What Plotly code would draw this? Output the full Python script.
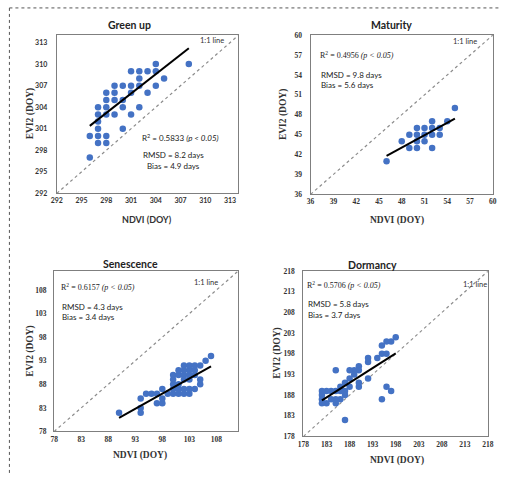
import plotly.graph_objects as go

W, H = 506, 478

# ---------------- data ----------------
green_ndvi = [308, 304, 301, 302, 303, 304, 302, 305, 299, 300, 301, 302, 304, 298, 299, 301, 303,
              298, 299, 300, 297, 298, 300, 302, 297, 298, 299, 301, 297, 297, 300, 296, 297, 298,
              297, 298, 296]
green_evi2 = [310, 310, 309, 309, 309, 309, 308, 308, 307, 307, 307, 307, 307, 306, 306, 306, 306,
              305, 305, 305, 304, 304, 304, 304, 303, 303, 303, 303, 302, 301, 301, 300, 300, 300,
              299, 299, 297]
green_fit_x = [296, 308]
green_fit_y = [301.4, 312.2]
green_ticks = [292, 295, 298, 301, 304, 307, 310, 313]
green_range = [292, 314]

mat_ndvi = [46, 48, 49, 49, 50, 50, 50, 50, 51, 51, 51, 52, 52, 52, 52, 53, 53, 54, 55]
mat_evi2 = [41, 44, 43, 45, 43, 44, 45, 46, 44, 45, 46, 43, 45, 46, 47, 45, 46, 47, 49]
mat_fit_x = [46, 55]
mat_fit_y = [41.8, 47.4]
mat_ticks = [36, 39, 42, 45, 48, 51, 54, 57, 60]
mat_range = [36, 60]

sen_ndvi = [90, 94, 94, 94, 95, 96, 97, 97, 98, 98, 98, 99,
            100, 100, 100, 100, 100, 101, 101, 101, 101, 101,
            102, 102, 102, 102, 102, 102, 103, 103, 103, 103, 103, 103,
            104, 104, 104, 104, 105, 105, 105, 106, 107]
sen_evi2 = [82, 85, 83, 82, 86, 86, 86, 84, 84, 85, 87, 86,
            86, 87, 88, 89, 90, 86, 87, 88, 90, 91,
            86, 87, 89, 90, 91, 92, 86, 87, 89, 90, 91, 92,
            87, 90, 91, 92, 88, 89, 92, 93, 94]
sen_fit_x = [90, 107]
sen_fit_y = [80.9, 91.8]
sen_ticks = [78, 83, 88, 93, 98, 103, 108]
sen_range = [78, 112]

dor_ndvi = [198, 197, 196, 195, 195, 196, 194, 192, 192, 190, 190, 189, 189, 188, 188, 185, 192,
            190, 190, 188, 187, 187, 187, 186, 186, 186, 185, 185, 184, 184, 183, 183, 182, 182,
            182, 182, 185, 195, 196, 197, 187]
dor_evi2 = [202, 201, 201, 200, 198, 198, 197, 197, 196, 195, 194, 194, 193, 194, 192, 194, 192,
            190, 191, 190, 191, 189, 188, 190, 189, 187, 189, 187, 189, 187, 189, 186, 189, 188,
            187, 186, 186, 187, 190, 189, 182]
dor_fit_x = [182, 198]
dor_fit_y = [186.7, 198.1]
dor_ticks = [178, 183, 188, 193, 198, 203, 208, 213, 218]
dor_range = [178, 218]

titles = ["Green up", "Maturity", "Senescence", "Dormancy"]
r2_texts = ["0.5833", "0.4956", "0.6157", "0.5706"]
rmsd_texts = ["8.2", "9.8", "4.3", "5.8"]
bias_texts = ["4.9", "5.6", "3.4", "3.7"]

# ---------------- layout helpers ----------------
def px_x(p):
    return p / W

def px_y(p):
    return 1 - p / H

# plot boxes in pixels: left, right, top, bottom
boxes = [
    (52, 238, 32, 193),
    (312, 498.7, 31.7, 194),
    (49.3, 237.7, 272.3, 435.7),
    (304.7, 493.7, 272.3, 440.7),
]
y_standoffs = [7, 6, 5, 6]

SERIF = "Liberation Serif"
SANS = "Lato"
BLUE = "#4472C4"

fig = go.Figure()

panels = [
    (green_ndvi, green_evi2, green_fit_x, green_fit_y, green_ticks, green_range),
    (mat_ndvi, mat_evi2, mat_fit_x, mat_fit_y, mat_ticks, mat_range),
    (sen_ndvi, sen_evi2, sen_fit_x, sen_fit_y, sen_ticks, sen_range),
    (dor_ndvi, dor_evi2, dor_fit_x, dor_fit_y, dor_ticks, dor_range),
]

annotations = []
shapes = []

for i, (xs, ys, fx, fy, ticks, rng) in enumerate(panels):
    n = i + 1
    xa = "x" if n == 1 else f"x{n}"
    ya = "y" if n == 1 else f"y{n}"
    # 1:1 line
    fig.add_trace(go.Scatter(x=rng, y=rng, mode="lines", xaxis=xa, yaxis=ya,
                             line=dict(color="#8c8c8c", width=1.2, dash="dot"),
                             hoverinfo="skip", showlegend=False))
    fig.add_trace(go.Scatter(x=xs, y=ys, mode="markers", xaxis=xa, yaxis=ya,
                             marker=dict(color=BLUE, size=6.5, line=dict(width=0)),
                             showlegend=False))
    fig.add_trace(go.Scatter(x=fx, y=fy, mode="lines", xaxis=xa, yaxis=ya,
                             line=dict(color="black", width=2),
                             hoverinfo="skip", showlegend=False))
    l, r, t, b = boxes[i]
    tick_font = dict(family=SANS if i == 0 else SERIF, size=7 if i == 0 else 7.5,
                     color="#333", weight="bold")
    axis_common = dict(showgrid=False, zeroline=False, showline=True, mirror=True,
                       linecolor="#7f7f7f", linewidth=1.2, ticks="", tickfont=tick_font,
                       tickvals=ticks, range=rng)
    fig.layout[("xaxis" if n == 1 else f"xaxis{n}")] = dict(
        domain=[px_x(l), px_x(r)], anchor=ya, ticklabelstandoff=0, **axis_common)
    fig.layout[("yaxis" if n == 1 else f"yaxis{n}")] = dict(
        domain=[px_y(b), px_y(t)], anchor=xa, ticklabelstandoff=y_standoffs[i], **axis_common)

# ---------- text annotations (pixel positions) ----------
def ann(text, x, y, size, family, color="#222", xanchor="center", yanchor="middle",
        weight="normal", angle=0):
    annotations.append(dict(text=text, x=px_x(x), y=px_y(y), xref="paper", yref="paper",
                            showarrow=False, xanchor=xanchor, yanchor=yanchor, textangle=angle,
                            font=dict(family=family, size=size, color=color, weight=weight)))

# panel titles
ann(titles[0], 126, 21, 10.5, SANS, weight="bold")
ann(titles[1], 395, 21.5, 10.5, SANS, weight="bold")
ann(titles[2], 128, 265, 10.5, SANS, weight="bold")
ann(titles[3], 375, 266, 10.5, SANS, weight="bold")

# axis titles
ann("NDVI (DOY)", 144, 220, 9, SANS, weight="bold", color="#333")
ann("NDVI (DOY)", 400, 221, 9.5, SERIF, weight="bold", color="#333")
ann("NDVI (DOY)", 137, 460, 9.5, SERIF, weight="bold", color="#333")
ann("NDVI (DOY)", 400, 465.5, 9.5, SERIF, weight="bold", color="#333")
ann("EVI2 (DOY)", 25, 112, 9.5, SERIF, weight="bold", color="#333", angle=-90)
ann("EVI2 (DOY)", 285, 113, 9.5, SERIF, weight="bold", color="#333", angle=-90)
ann("EVI2 (DOY)", 25, 354, 9.5, SERIF, weight="bold", color="#333", angle=-90)
ann("EVI2 (DOY)", 278, 356, 9.5, SERIF, weight="bold", color="#333", angle=-90)

# 1:1 labels
ann("1:1 line", 211, 37.5, 7.5, SANS, color="#333")
ann("1:1 line", 470, 38.5, 7.5, SANS, color="#333")
ann("1:1 line", 205, 284, 7.5, SANS, color="#333")
ann("1:1 line", 480, 286, 7.5, SANS, color="#333")

def stats(i, x, y_r2, y_rmsd, y_bias, bias_indent=0, r2_family=SERIF):
    ann(f"R<sup>2</sup> = {r2_texts[i]} <i>(p &lt; 0.05)</i>", x, y_r2, 8, r2_family,
        xanchor="left")
    ann(f"RMSD = {rmsd_texts[i]} days", x + 1, y_rmsd, 8, SANS, xanchor="left")
    ann(f"Bias = {bias_texts[i]} days", x + 1 + bias_indent, y_bias, 8, SANS, xanchor="left")

stats(0, 137, 136, 153.5, 165, bias_indent=4, r2_family=SANS)
stats(1, 320, 52, 72, 83)
stats(2, 54, 288, 309, 319.5)
stats(3, 306, 286, 306, 316.5)

# outer dashed border
shapes.append(dict(type="line", xref="paper", yref="paper", x0=px_x(3.5), x1=1,
                   y0=px_y(4), y1=px_y(4), line=dict(color="#555", width=1, dash="dot")))
shapes.append(dict(type="line", xref="paper", yref="paper", x0=px_x(3.5), x1=px_x(3.5),
                   y0=px_y(4), y1=0, line=dict(color="#555", width=1, dash="dot")))

fig.update_layout(width=W, height=H, margin=dict(l=0, r=0, t=0, b=0),
                  paper_bgcolor="white", plot_bgcolor="white",
                  annotations=annotations, shapes=shapes, showlegend=False)

fig.write_html("out.html")
